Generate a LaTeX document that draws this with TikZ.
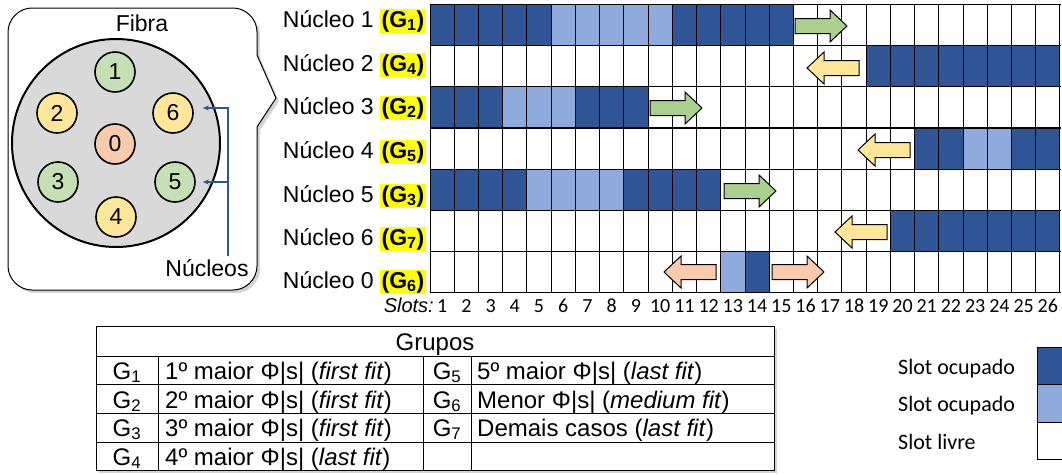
\documentclass[tikz,border=0pt]{standalone}
\usepackage{fontspec}
\setmainfont{Liberation Sans}
\newfontfamily\calibri{Carlito}
\usetikzlibrary{arrows.meta,positioning,shadows}

\definecolor{slotdark}{HTML}{2F5597}
\definecolor{slotlight}{HTML}{8FAADC}
\definecolor{cgreen}{HTML}{C5E0B4}
\definecolor{cyellow}{HTML}{FFE699}
\definecolor{corange}{HTML}{F8CBAD}
\definecolor{agreen}{HTML}{A9D18E}
\definecolor{hlyellow}{HTML}{FFFF00}

\newcommand{\grp}[1]{{\setlength{\fboxsep}{1.5pt}\colorbox{hlyellow}{\textbf{(G\textsubscript{#1})}}}}

\begin{document}
\begin{tikzpicture}[x=1pt, y=-1pt,
  lab/.style={font=\fontsize{23}{27}\selectfont, inner sep=0pt},
  core/.style={circle, draw, line width=1.6pt, minimum size=40pt, inner sep=0pt, font=\fontsize{23}{27}\selectfont},
  cell/.style={font=\fontsize{24}{28}\selectfont, inner sep=0pt, anchor=base west},
  num/.style={font=\calibri\fontsize{20}{24}\selectfont, inner sep=0pt, anchor=base},
  legtext/.style={font=\calibri\fontsize{22}{26}\selectfont, inner sep=0pt, anchor=base west},
  ptr/.style={draw=slotdark, line width=1.3pt, -{Stealth[length=6pt,width=5pt]}},
  shade/.style={drop shadow={shadow xshift=3pt, shadow yshift=-3pt, opacity=0.35}},
  blockarrow/.pic={\draw[line width=1pt, fill=#1] (-26,-7.5) -- (9,-7.5) -- (9,-16) -- (26,0) -- (9,16) -- (9,7.5) -- (-26,7.5) -- cycle;},
]
  \clip (0,0) rectangle (1062,474);

  % Fibre cross-section inside a callout.
  \draw[line width=1pt, fill=white, shade]
    (32,8) -- (233,8) .. controls (246,8) and (257,19) .. (257,32) -- (257,55)
    -- (276,98) -- (257,127) -- (257,266) .. controls (257,279) and (246,290) .. (233,290)
    -- (32,290) .. controls (19,290) and (8,279) .. (8,266) -- (8,32) .. controls (8,19) and (19,8) .. (32,8) -- cycle;
  \node[circle, draw, line width=2pt, fill=gray!30, minimum size=208pt, inner sep=0pt] (fibra) at (116,143) {};
  \node[lab] (tfibra) at (142,23) {Fibra};
  \foreach \n/\x/\y/\c in {1/115/72/cgreen, 2/57/113/cyellow, 6/173/113/cyellow, 0/115/144/corange,
                           3/58/182/cgreen, 5/175/182/cgreen, 4/116/217/cyellow}
    \node[core, fill=\c] (c\n) at (\x,\y) {\n};
  \node[lab] (tnuc) at (207,268) {Núcleos};
  \coordinate (bus) at (228,256);
  \draw[ptr] (bus) |- ([xshift=9pt, yshift=5pt]c6.east);
  \draw[ptr] (bus) |- ([xshift=7pt]c5.east);

  % Slot occupation, one row per core.
  \foreach \r/\a/\b/\s in {0/1/5/slotdark, 0/6/10/slotlight, 0/11/15/slotdark, 1/19/26/slotdark,
                           2/1/3/slotdark, 2/4/6/slotlight, 2/7/9/slotdark,
                           3/21/22/slotdark, 3/23/24/slotlight, 3/25/26/slotdark,
                           4/1/4/slotdark, 4/5/8/slotlight, 4/9/12/slotdark, 5/20/26/slotdark,
                           6/13/13/slotlight, 6/14/14/slotdark}
    \fill[\s] ({430+(\a-1)*24.23},{4.3+\r*41.2}) rectangle ({430+\b*24.23},{4.3+(\r+1)*41.2});
  \foreach \c in {0,...,26}
    \draw[line width=1pt] ({430+\c*24.23},4.3) -- ({430+\c*24.23},292.7);
  \foreach \r in {0,...,7}
    \draw[line width=1.2pt] (429.5,{4.3+\r*41.2}) -- (1060.5,{4.3+\r*41.2});

  % Row labels.
  \foreach \r/\k/\g/\y in {0/1/1/27, 1/2/4/71, 2/3/2/114, 3/4/5/158, 4/5/3/202, 5/6/7/245, 6/0/6/288}
    \node[lab, anchor=base east] (n\k) at (426,\y) {Núcleo \k\ \grp{\g}};

  % Direction of allocation.
  \pic at (821,26) {blockarrow=agreen};
  \pic[xscale=-1] at (833,68) {blockarrow=cyellow};
  \pic at (676,108) {blockarrow=agreen};
  \pic[xscale=-1] at (884,150) {blockarrow=cyellow};
  \pic at (750,191) {blockarrow=agreen};
  \pic[xscale=-1] at (861,232) {blockarrow=cyellow};
  \pic[xscale=-1] at (690,272) {blockarrow=corange};
  \pic at (798,272) {blockarrow=corange};

  % Slot indices.
  \node[num, anchor=base east, font=\itshape\fontsize{20}{24}\selectfont] (tslots) at (434,312) {Slots:};
  \foreach \c in {1,...,26}
    \node[num] (s\c) at ({430+(\c-0.5)*24.23},312) {\c};

  % Group table.
  \draw[line width=1pt, fill=white, shade] (96,326) rectangle (774,470);
  \foreach \y in {356,384,413,442}
    \draw[line width=1pt] (96,\y) -- (774,\y);
  \foreach \x in {158,423,471}
    \draw[line width=1pt] (\x,356) -- (\x,470);
  \node[cell, anchor=base] (tgrupos) at (435,350) {Grupos};
  \foreach \g/\t/\y in {1/{1º maior Φ|s| (\textit{first fit})}/379, 2/{2º maior Φ|s| (\textit{first fit})}/408,
                        3/{3º maior Φ|s| (\textit{first fit})}/436, 4/{4º maior Φ|s| (\textit{last fit})}/465}{
    \node[cell, anchor=base] (gl\g) at (127,\y) {G\textsubscript{\g}};
    \node[cell] (dl\g) at (165,\y) {\t};
  }
  \foreach \g/\t/\y in {5/{5º maior Φ|s| (\textit{last fit})}/379, 6/{Menor Φ|s| (\textit{medium fit})}/408,
                        7/{Demais casos (\textit{last fit})}/436}{
    \node[cell, anchor=base] (gr\g) at (447,\y) {G\textsubscript{\g}};
    \node[cell] (dr\g) at (477,\y) {\t};
  }

  % Slot legend.
  \foreach \i/\t/\c in {0/Slot ocupado/slotdark, 1/Slot ocupado/slotlight, 2/Slot livre/white}{
    \node[legtext] (k\i) at (898,{374+\i*37.5}) {\t};
    \draw[line width=1pt, fill=\c] (1037,{347+\i*37.5}) rectangle (1075,{347+(\i+1)*37.5});
  }
\end{tikzpicture}
\end{document}
